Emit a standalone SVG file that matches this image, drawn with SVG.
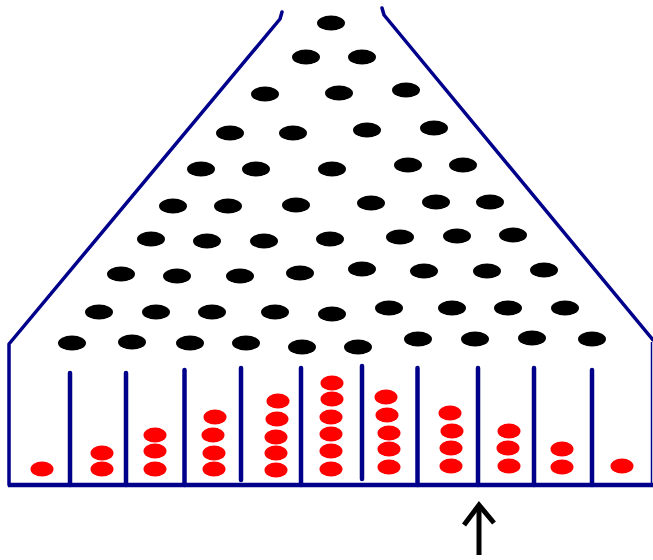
<svg xmlns="http://www.w3.org/2000/svg" width="653" height="560" viewBox="0 0 653 560">
<style>
.wall{stroke:#00008b;stroke-width:3.5;fill:none;stroke-linecap:round;stroke-linejoin:round}
.div{stroke:#00008b;stroke-width:4.5;stroke-linecap:round}
.peg ellipse{fill:#000;rx:14px;ry:7.5px}
.ball ellipse{fill:#f00;rx:11.5px;ry:7.5px}
.arrow{stroke:#000;stroke-width:5;fill:none;stroke-linejoin:miter}
</style>
<rect width="653" height="560" fill="#fff"/>
<g id="frame">
<path class="wall" d="M282,12 L280,19 L9,344 L9,485"/>
<path class="wall" d="M382,8 L384,15 L653,340"/>
<line x1="651.5" y1="342" x2="651.5" y2="485" stroke="#00008b" stroke-width="1.5"/>
<line x1="8" y1="485" x2="653" y2="485" stroke="#00008b" stroke-width="4.5"/>
</g>
<g id="dividers">
<line class="div" x1="70" y1="373" x2="70" y2="485"/>
<line class="div" x1="126" y1="373" x2="126" y2="485"/>
<line class="div" x1="184.5" y1="370" x2="184.5" y2="485"/>
<line class="div" x1="241" y1="368" x2="241" y2="480"/>
<line class="div" x1="301" y1="368" x2="301" y2="485"/>
<line class="div" x1="362" y1="366" x2="362" y2="479"/>
<line class="div" x1="417.5" y1="368" x2="417.5" y2="485"/>
<line class="div" x1="478" y1="368" x2="478" y2="485"/>
<line class="div" x1="534" y1="368" x2="534" y2="485"/>
<line class="div" x1="592" y1="370" x2="592" y2="485"/>
</g>
<g id="pegs" class="peg">
<ellipse cx="331" cy="23" rx="14" ry="7.5"/>
<ellipse cx="306" cy="57" rx="14" ry="7.5"/><ellipse cx="362" cy="57" rx="14" ry="7.5"/>
<ellipse cx="265" cy="94" rx="14" ry="7.5"/><ellipse cx="339" cy="93" rx="14" ry="7.5"/><ellipse cx="406" cy="90" rx="14" ry="7.5"/>
<ellipse cx="230" cy="133" rx="14" ry="7.5"/><ellipse cx="293" cy="133" rx="14" ry="7.5"/><ellipse cx="367" cy="130" rx="14" ry="7.5"/><ellipse cx="434" cy="128" rx="14" ry="7.5"/>
<ellipse cx="201" cy="169" rx="14" ry="7.5"/><ellipse cx="256" cy="169" rx="14" ry="7.5"/><ellipse cx="332" cy="169" rx="14" ry="7.5"/><ellipse cx="408" cy="165" rx="14" ry="7.5"/><ellipse cx="463" cy="165" rx="14" ry="7.5"/>
<ellipse cx="173" cy="206" rx="14" ry="7.5"/><ellipse cx="228" cy="206" rx="14" ry="7.5"/><ellipse cx="296" cy="205" rx="14" ry="7.5"/><ellipse cx="371" cy="203" rx="14" ry="7.5"/><ellipse cx="436" cy="202" rx="14" ry="7.5"/><ellipse cx="490" cy="202" rx="14" ry="7.5"/>
<ellipse cx="151" cy="239" rx="14" ry="7.5"/><ellipse cx="207" cy="241" rx="14" ry="7.5"/><ellipse cx="264" cy="241" rx="14" ry="7.5"/><ellipse cx="330" cy="239" rx="14" ry="7.5"/><ellipse cx="400" cy="237" rx="14" ry="7.5"/><ellipse cx="457" cy="236" rx="14" ry="7.5"/><ellipse cx="513" cy="235" rx="14" ry="7.5"/>
<ellipse cx="121" cy="274" rx="14" ry="7.5"/><ellipse cx="177" cy="276" rx="14" ry="7.5"/><ellipse cx="240" cy="276" rx="14" ry="7.5"/><ellipse cx="300" cy="273" rx="14" ry="7.5"/><ellipse cx="362" cy="269" rx="14" ry="7.5"/><ellipse cx="424" cy="271" rx="14" ry="7.5"/><ellipse cx="487" cy="271" rx="14" ry="7.5"/><ellipse cx="544" cy="270" rx="14" ry="7.5"/>
<ellipse cx="99" cy="312" rx="14" ry="7.5"/><ellipse cx="156" cy="312" rx="14" ry="7.5"/><ellipse cx="212" cy="312" rx="14" ry="7.5"/><ellipse cx="275" cy="312" rx="14" ry="7.5"/><ellipse cx="332" cy="314" rx="14" ry="7.5"/><ellipse cx="389" cy="308" rx="14" ry="7.5"/><ellipse cx="452" cy="308" rx="14" ry="7.5"/><ellipse cx="508" cy="308" rx="14" ry="7.5"/><ellipse cx="565" cy="308" rx="14" ry="7.5"/>
<ellipse cx="72" cy="343" rx="14" ry="7.5"/><ellipse cx="132" cy="342" rx="14" ry="7.5"/><ellipse cx="190" cy="343" rx="14" ry="7.5"/><ellipse cx="246" cy="343" rx="14" ry="7.5"/><ellipse cx="302" cy="347" rx="14" ry="7.5"/><ellipse cx="358" cy="347" rx="14" ry="7.5"/><ellipse cx="418" cy="339" rx="14" ry="7.5"/><ellipse cx="475" cy="339" rx="14" ry="7.5"/><ellipse cx="532" cy="338" rx="14" ry="7.5"/><ellipse cx="592" cy="339" rx="14" ry="7.5"/>
</g>
<g id="balls" class="ball">
<ellipse cx="42" cy="469" rx="11.5" ry="7.5"/>
<ellipse cx="102" cy="469" rx="11.5" ry="7.5"/><ellipse cx="102" cy="453" rx="11.5" ry="7.5"/>
<ellipse cx="155" cy="469" rx="11.5" ry="7.5"/><ellipse cx="155" cy="451" rx="11.5" ry="7.5"/><ellipse cx="155" cy="435" rx="11.5" ry="7.5"/>
<ellipse cx="214" cy="469" rx="11.5" ry="7.5"/><ellipse cx="214" cy="453" rx="11.5" ry="7.5"/><ellipse cx="213" cy="435" rx="11.5" ry="7.5"/><ellipse cx="215" cy="417" rx="11.5" ry="7.5"/>
<ellipse cx="276" cy="470" rx="11.5" ry="7.5"/><ellipse cx="276" cy="453" rx="11.5" ry="7.5"/><ellipse cx="276" cy="437" rx="11.5" ry="7.5"/><ellipse cx="277" cy="419" rx="11.5" ry="7.5"/><ellipse cx="278" cy="401" rx="11.5" ry="7.5"/>
<ellipse cx="331" cy="469" rx="11.5" ry="7.5"/><ellipse cx="331" cy="451" rx="11.5" ry="7.5"/><ellipse cx="331" cy="434" rx="11.5" ry="7.5"/><ellipse cx="331" cy="417" rx="11.5" ry="7.5"/><ellipse cx="332" cy="399" rx="11.5" ry="7.5"/><ellipse cx="332" cy="383" rx="11.5" ry="7.5"/>
<ellipse cx="389" cy="467" rx="11.5" ry="7.5"/><ellipse cx="389" cy="449" rx="11.5" ry="7.5"/><ellipse cx="389" cy="433" rx="11.5" ry="7.5"/><ellipse cx="387" cy="415" rx="11.5" ry="7.5"/><ellipse cx="386" cy="397" rx="11.5" ry="7.5"/>
<ellipse cx="451" cy="466" rx="11.5" ry="7.5"/><ellipse cx="451" cy="448" rx="11.5" ry="7.5"/><ellipse cx="452" cy="431" rx="11.5" ry="7.5"/><ellipse cx="450" cy="413" rx="11.5" ry="7.5"/>
<ellipse cx="509" cy="466" rx="11.5" ry="7.5"/><ellipse cx="508" cy="448" rx="11.5" ry="7.5"/><ellipse cx="509" cy="431" rx="11.5" ry="7.5"/>
<ellipse cx="562" cy="467" rx="11.5" ry="7.5"/><ellipse cx="562" cy="449" rx="11.5" ry="7.5"/>
<ellipse cx="622" cy="466" rx="11.5" ry="7.5"/>
</g>
<g id="arrow">
<line class="arrow" x1="479" y1="555" x2="479" y2="508"/>
<path class="arrow" d="M464,525 L479,505 L494,523"/>
</g>
</svg>
